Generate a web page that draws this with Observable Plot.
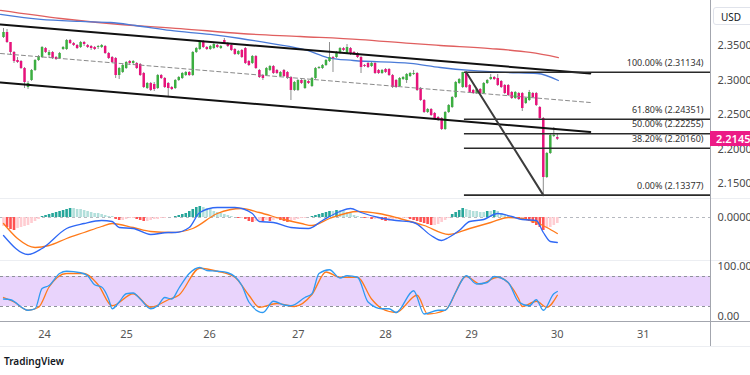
<!DOCTYPE html>
<html><head><meta charset="utf-8">
<script src="https://cdn.jsdelivr.net/npm/d3@7"></script>
<script src="https://cdn.jsdelivr.net/npm/@observablehq/plot@0.6"></script>
<style>
body{margin:0;background:#fff;}
#wrap{position:relative;width:750px;height:375px;overflow:hidden;background:#fff;font-family:'Noto Sans','DejaVu Sans',sans-serif;}
.pane{position:absolute;left:0;}
.line{position:absolute;}
</style></head><body><div id="wrap"></div>
<script>
// ---- hourly candles (USD) ----
const open = [2.3615,2.3688,2.3543,2.3399,2.3283,2.3269,2.3167,2.2893,2.2994,2.3139,
2.3283,2.3326,2.3456,2.3355,2.3399,2.3326,2.3312,2.3442,2.3442,2.3572,
2.3529,2.3500,2.3471,2.3543,2.3500,2.3485,2.3471,2.3471,2.3471,2.3485,
2.3384,2.3326,2.3312,2.3066,2.3110,2.3167,2.3269,2.3240,2.3240,2.3225,
2.3095,2.2878,2.2951,2.2936,2.2878,2.3066,2.3023,2.2951,2.2893,2.2878,
2.2994,2.3023,2.3066,2.3110,2.3066,2.3399,2.3442,2.3558,2.3471,2.3442,
2.3456,2.3500,2.3456,2.3572,2.3529,2.3500,2.3442,2.3370,2.3428,2.3456,
2.3269,2.3240,2.3341,2.3139,2.3066,2.3066,2.3139,2.3196,2.3139,2.3052,
2.3139,2.3110,2.3037,2.2850,2.2850,2.2994,
2.2878,2.2980,2.2907,2.3023,2.3167,
2.3167,2.3211,2.3269,2.3326,2.3326,2.3384,2.3456,2.3384,
2.3456,2.3399,2.3384,2.3326,2.3211,2.3240,2.3196,2.3240,2.3139,2.3095,
2.3153,2.3153,2.3066,2.2994,2.2907,2.3008,2.2994,2.3052,2.3081,2.3095,2.2878,2.2705,
2.2532,2.2575,2.2517,2.2459,2.2445,2.2286,2.2532,
2.2604,2.2748,2.2951,2.2893,2.3110,2.2922,2.2850,
2.2806,2.2864,2.2806,
2.2951,2.3008,2.3037,2.3023,2.2980,2.2922,
2.2922,2.2821,2.2734,
2.2806,2.2806,2.2662,2.2705,2.2806,2.2806,2.2604,2.2445,2.1592,2.1939,2.2185,2.2170];
const high = [2.3745,2.3731,2.3543,2.3413,2.3326,2.3283,2.3182,2.2980,2.3153,2.3297,
2.3355,2.3485,2.3471,2.3428,2.3413,2.3341,2.3399,2.3485,2.3586,2.3586,
2.3543,2.3514,2.3558,2.3558,2.3514,2.3500,2.3485,2.3500,2.3514,2.3500,
2.3399,2.3341,2.3326,2.3182,2.3225,2.3269,2.3283,2.3283,2.3254,2.3240,
2.3110,2.2965,2.2965,2.2965,2.3081,2.3081,2.3037,2.2965,2.2907,2.3008,
2.3052,2.3110,2.3124,2.3124,2.3413,2.3471,2.3572,2.3572,2.3485,2.3500,
2.3529,2.3514,2.3500,2.3601,2.3543,2.3514,2.3456,2.3428,2.3442,2.3471,
2.3283,2.3355,2.3355,2.3153,2.3081,2.3182,2.3211,2.3211,2.3153,2.3124,
2.3153,2.3124,2.3052,2.2980,2.3008,2.3008,
2.3008,2.2994,2.3037,2.3182,2.3196,
2.3225,2.3297,2.3543,2.3341,2.3413,2.3471,2.3471,2.3514,
2.3471,2.3413,2.3399,2.3341,2.3225,2.3254,2.3254,2.3254,2.3153,2.3153,
2.3167,2.3167,2.3081,2.3008,2.3037,2.3052,2.3095,2.3110,2.3139,2.3110,2.2893,2.2719,
2.2589,2.2589,2.2532,2.2474,2.2459,2.2546,2.2647,
2.2763,2.2980,2.3023,2.3113,2.3113,2.2936,2.2864,
2.2878,2.2878,2.2965,
2.3008,2.3081,2.3052,2.3081,2.2994,2.2936,
2.2936,2.2835,2.2835,
2.2821,2.2821,2.2748,2.2850,2.2821,2.2821,2.2618,2.2459,2.1954,2.2214,2.2315,2.2214];
const low = [2.3601,2.3529,2.3355,2.3240,2.3240,2.3153,2.2878,2.2864,2.2980,2.3124,
2.3269,2.3312,2.3384,2.3312,2.3297,2.3283,2.3297,2.3428,2.3428,2.3514,
2.3485,2.3442,2.3456,2.3485,2.3456,2.3428,2.3428,2.3442,2.3456,2.3370,
2.3297,2.3240,2.3023,2.3008,2.3095,2.3153,2.3211,2.3225,2.3153,2.3052,
2.2878,2.2864,2.2835,2.2835,2.2864,2.3008,2.2878,2.2748,2.2850,2.2864,
2.2980,2.3008,2.3052,2.3052,2.3052,2.3384,2.3428,2.3456,2.3428,2.3428,
2.3442,2.3456,2.3442,2.3514,2.3471,2.3413,2.3355,2.3355,2.3312,2.3225,
2.3196,2.3225,2.3153,2.3023,2.2994,2.3052,2.3124,2.3081,2.3081,2.3037,
2.3037,2.3008,2.2705,2.2835,2.2835,2.2936,
2.2864,2.2936,2.2893,2.3008,2.3153,
2.3153,2.3196,2.3254,2.3110,2.3312,2.3370,2.3413,2.3370,
2.3355,2.3355,2.3312,2.3095,2.3182,2.3167,2.3182,2.3081,2.3081,2.3081,
2.3095,2.3052,2.2878,2.2878,2.2893,2.2994,2.2951,2.3037,2.3066,2.2835,2.2691,2.2517,
2.2517,2.2474,2.2430,2.2402,2.2272,2.2272,2.2517,
2.2589,2.2734,2.2936,2.2878,2.2878,2.2806,2.2792,
2.2792,2.2792,2.2792,
2.2936,2.2994,2.2994,2.2907,2.2878,2.2792,
2.2763,2.2719,2.2719,
2.2705,2.2546,2.2647,2.2691,2.2734,2.2618,2.2430,2.13377,2.1578,2.1925,2.2170,2.2127];
const close = [2.3688,2.3543,2.3399,2.3269,2.3254,2.3167,2.2965,2.2951,2.3139,2.3283,
2.3341,2.3471,2.3399,2.3399,2.3312,2.3297,2.3384,2.3471,2.3572,2.3529,
2.3500,2.3456,2.3543,2.3514,2.3471,2.3456,2.3442,2.3485,2.3500,2.3384,
2.3312,2.3254,2.3066,2.3167,2.3211,2.3254,2.3240,2.3269,2.3167,2.3066,
2.2893,2.2951,2.2850,2.2864,2.3066,2.3023,2.2893,2.2878,2.2864,2.2994,
2.3037,2.3095,2.3110,2.3066,2.3399,2.3456,2.3558,2.3471,2.3442,2.3485,
2.3514,2.3471,2.3485,2.3529,2.3485,2.3428,2.3370,2.3413,2.3326,2.3240,
2.3211,2.3341,2.3167,2.3037,2.3023,2.3167,2.3196,2.3095,2.3095,2.3110,
2.3052,2.3023,2.2850,2.2965,2.2994,2.2951,
2.2994,2.2951,2.3023,2.3167,2.3182,
2.3211,2.3283,2.3326,2.3312,2.3399,2.3456,2.3428,2.3471,
2.3370,2.3370,2.3326,2.3182,2.3196,2.3182,2.3240,2.3095,2.3095,2.3139,
2.3110,2.3066,2.2893,2.2893,2.3023,2.3037,2.3081,2.3095,2.3095,2.2850,2.2705,2.2532,
2.2575,2.2488,2.2445,2.2416,2.2286,2.2532,2.2633,
2.2748,2.2965,2.3008,2.3110,2.2893,2.2821,2.2806,
2.2864,2.2806,2.2951,
2.2994,2.3037,2.3008,2.2922,2.2893,2.2806,
2.2777,2.2734,2.2821,
2.2719,2.2589,2.2734,2.2821,2.2748,2.2633,2.2445,2.1592,2.1939,2.2199,2.2199,2.2145];

// ---- time axis (bar index of each day label) ----
const dayLabels = ["24","25","26","27","28","29","30","31"];
const dayIdx = [11.7, 35.1, 58.8, 84.1, 109.0, 133.5, 158.0, 182.5];
const xDomain = [-0.856, 201.7];

// ---- price axis ----
const priceTicks = [2.15, 2.20, 2.25, 2.30, 2.35];
const priceDomain = [2.12889, 2.415];

// ---- moving averages ----
const maRedIdx = [-0.856,16.3,33.4,50.5,67.6,84.7,101.8,116.1,124.6,138.9,150.3,158.3];
const maRed = [2.4006,2.3890,2.3803,2.3745,2.3673,2.3630,2.3586,2.3529,2.3500,2.3456,2.3399,2.3326];
const maBlueIdx = [-0.856,10.6,22.0,30.5,37.6,47.6,59.0,67.6,76.2,86.7,92.4,99.8,116.1,124.6,133.2,143.2,152.3,158.3];
const maBlue = [2.3948,2.3876,2.3847,2.3832,2.3789,2.3717,2.3659,2.3601,2.3529,2.3428,2.3326,2.3283,2.3240,2.3182,2.3139,2.3110,2.3095,2.2994];

// ---- channel drawing ----
const channelIdx = [-0.856, 167.4];
const channelUpper = [2.3803, 2.3095];
const channelMid = [2.3384, 2.2676];
const channelLower = [2.2965, 2.2250];

// ---- fibonacci retracement ----
const fibPct = [100, 61.8, 50, 38.2, 0];
const fibPrice = [2.31134, 2.24351, 2.22255, 2.20160, 2.13377];
const fibStartIdx = 131.5;
const fibSwingIdx = [132, 154];

// ---- MACD ----
const macdHist = [-0.009,-0.010,-0.012,-0.013,-0.011,-0.010,-0.009,-0.008,-0.006,-0.004,-0.002,
0.001,0.002,0.003,0.004,0.005,0.006,0.007,0.008,0.009,
0.009,0.008,0.008,0.007,0.006,0.005,0.004,0.004,0.003,0.002,
0.001,0.001,-0.002,-0.003,-0.003,-0.002,-0.001,-0.001,-0.002,-0.003,
-0.004,-0.004,-0.003,-0.002,-0.002,-0.001,-0.001,0,0,0.001,
0.002,0.003,0.004,0.006,0.008,0.010,0.011,0.010,0.009,0.008,
0.006,0.005,0.004,0.003,0.002,0.001,0,-0.001,-0.001,-0.002,
-0.004,-0.005,-0.004,-0.003,-0.004,-0.003,-0.004,-0.003,-0.002,-0.003,
-0.004,-0.005,-0.004,-0.003,-0.002,-0.001,-0.001,0,0.001,0.002,
0.003,0.004,0.005,0.006,0.006,0.007,0.007,0.006,0.005,0.004,
0.002,0.001,0,-0.001,-0.001,-0.002,-0.002,-0.002,-0.003,-0.004,
-0.004,-0.003,-0.002,-0.002,-0.001,-0.001,-0.002,-0.003,-0.004,-0.005,
-0.006,-0.007,-0.008,-0.008,-0.007,-0.005,-0.003,-0.001,0.003,0.005,
0.007,0.009,0.008,0.007,0.006,0.006,0.005,0.005,0.006,0.006,
0.007,0.006,0.004,0.003,0.001,0,-0.001,-0.002,-0.002,-0.003,
-0.004,-0.006,-0.008,-0.010,-0.013,-0.011,-0.010,-0.008,-0.006];
const macdIdx = [0,7,11,18,23,28,31,33,37,42,47,49,53,56,61,66,71,73,77,82,87,91,96,99,102,107,112,117,122,125,127,130,133,137,141,145,148,152,154,156,158];
const macdLine = [-0.018,-0.037,-0.031,-0.011,-0.006,-0.003,-0.004,-0.010,-0.011,-0.017,-0.015,-0.015,-0.010,0.005,0.010,0.010,0.004,-0.004,-0.005,-0.010,-0.011,-0.003,0.006,0.009,0.005,0.000,-0.003,-0.005,-0.018,-0.023,-0.020,-0.013,-0.004,-0.002,0.004,0.001,-0.002,-0.003,-0.015,-0.024,-0.025];
const signalIdx = [0,4,9,13,18,23,28,31,37,42,48,54,61,68,73,80,85,88,93,101,107,113,120,127,133,139,144,148,152,155,158];
const signalLine = [-0.006,-0.021,-0.030,-0.028,-0.021,-0.015,-0.009,-0.006,-0.010,-0.014,-0.015,-0.011,0.004,0.009,0.005,-0.002,-0.006,-0.008,-0.001,0.006,0.004,-0.001,-0.008,-0.017,-0.011,-0.005,0.000,-0.001,-0.005,-0.010,-0.016];

// ---- Stochastic RSI ----
const kIdx = [0,2,7,9,11,13,16,18,22,24,26,28,30,31,33,35,37,39,42,44,46,48,50,53,56,58,61,64,68,70,74,77,80,82,86,88,90,93,96,98,101,104,108,110,112,117,120,124,126,129,132,135,138,140,144,147,150,152,154,157,158];
const kVal = [40,39,25,27,54,58,74,77,75,71,59,56,40,27,36,47,48,40,27,31,42,40,54,74,82,78,77,75,58,36,22,37,32,31,42,47,74,79,68,71,69,36,27,27,22,51,20,25,25,49,71,60,62,70,62,36,31,39,25,47,50];
const dIdx = [0,3,7,10,13,18,23,27,31,37,42,47,50,56,61,66,70,73,78,83,88,92,96,101,105,108,112,118,121,126,132,136,141,147,148,152,155,158];
const dVal = [42,36,25,29,56,74,74,59,31,47,29,39,45,81,77,69,45,29,34,30,46,76,69,69,40,27,22,45,20,25,70,60,69,40,30,37,29,45];
const bandLevels = [30, 70];
const rsiLabels = [100, 0];

// ---- styling ----
const FONT = "'Noto Sans','DejaVu Sans',sans-serif";
const GREEN = "#3cae41", PINK = "#e6137b";
const wrap = document.getElementById("wrap");
const common = {
  width: 750, marginLeft: 0, marginRight: 40, marginTop: 0, marginBottom: 0,
  x: {domain: xDomain, axis: null},
  color: {type: "identity"},
  style: {fontFamily: FONT, fontSize: "11px", background: "transparent", color: "#4a4a4a", overflow: "visible"}
};
function place(el, top) {
  const d = document.createElement("div");
  d.className = "pane"; d.style.top = top + "px";
  d.appendChild(el); wrap.appendChild(d);
}
const pts = (xs, ys) => xs.map((x, i) => ({x, y: ys[i]}));

const bars = close.map((c, i) => ({i, o: open[i], h: high[i], l: low[i], c}));
const fibs = fibPrice.map((p, i) => ({p, pct: fibPct[i]}));

const main = Plot.plot({
  ...common, height: 198,
  y: {domain: priceDomain, axis: null},
  marks: [
    Plot.line(pts(maRedIdx, maRed), {x: "x", y: "y", stroke: "#e05f5f", strokeWidth: 1.3, curve: "monotone-x"}),
    Plot.line(pts(maBlueIdx, maBlue), {x: "x", y: "y", stroke: "#4a7bd8", strokeWidth: 1.3, curve: "monotone-x"}),
    Plot.ruleX(bars, {x: "i", y1: "l", y2: "h", stroke: "#8e8e8e", strokeWidth: 1}),
    Plot.ruleX(bars, {x: "i", y1: "o", y2: "c", stroke: d => d.c >= d.o ? GREEN : PINK, strokeWidth: 2.5}),
    Plot.line(pts(channelIdx, channelMid), {x: "x", y: "y", stroke: "#8a8a8a", strokeWidth: 1, strokeDasharray: "4,3"}),
    Plot.line(pts(channelIdx, channelUpper), {x: "x", y: "y", stroke: "#111", strokeWidth: 2}),
    Plot.line(pts(channelIdx, channelLower), {x: "x", y: "y", stroke: "#111", strokeWidth: 2}),
    Plot.ruleY(fibs, {y: "p", x1: () => fibStartIdx, x2: () => xDomain[1], stroke: "#2a2a2a", strokeWidth: 1.6}),
    Plot.line(pts(fibSwingIdx, [fibPrice[0], fibPrice[fibPrice.length - 1]]), {x: "x", y: "y", stroke: "#3c3c3c", strokeWidth: 2}),
    Plot.text(fibs, {x: () => xDomain[1], y: "p", text: d => `${d.pct.toFixed(2)}% (${d.p.toFixed(5)})`,
      textAnchor: "end", dx: -7, dy: -9.5, fontSize: 9, fill: "#333"}),
    Plot.text(priceTicks, {x: () => xDomain[1], y: d => d, text: d => d3.format(".4f")(d),
      textAnchor: "start", dx: 7, fill: "#4a4a4a"})
  ]
});
place(main, 0);

const histData = macdHist.map((v, i) => {
  const p = i ? macdHist[i - 1] : v;
  const col = v >= 0 ? (v > p ? "#26a69a" : "#b2dfdb") : (v < p ? "#ff5252" : "#ffcdd2");
  return {i, v, col};
});
const macdPlot = Plot.plot({
  ...common, height: 61,
  y: {domain: [-0.043, 0.018], axis: null},
  marks: [
    Plot.ruleY([0], {stroke: "#b6b9c0", strokeDasharray: "3,3"}),
    Plot.ruleX(histData, {x: "i", y1: () => 0, y2: "v", stroke: "col", strokeWidth: 2.6}),
    Plot.line(pts(signalIdx, signalLine), {x: "x", y: "y", stroke: "#ff7a1a", strokeWidth: 1.3, curve: "monotone-x"}),
    Plot.line(pts(macdIdx, macdLine), {x: "x", y: "y", stroke: "#2f68f5", strokeWidth: 1.3, curve: "monotone-x"}),
    Plot.text([0], {x: () => xDomain[1], y: d => d, text: d => d3.format(".4f")(d), textAnchor: "start", dx: 7, fill: "#4a4a4a"})
  ]
});
place(macdPlot, 199);

const rsiDomain = [10, 90];
const rsiPlot = Plot.plot({
  ...common, height: 60,
  y: {domain: rsiDomain, axis: null},
  marks: [
    Plot.rect([bandLevels], {x1: () => xDomain[0], x2: () => xDomain[1], y1: d => d[0], y2: d => d[1], fill: "#e9d4fc"}),
    Plot.ruleY(bandLevels, {x1: () => xDomain[0], x2: () => xDomain[1], stroke: "#8f929b", strokeDasharray: "3,3"}),
    Plot.line(pts(dIdx, dVal), {x: "x", y: "y", stroke: "#ff7a1a", strokeWidth: 1.3, curve: "monotone-x"}),
    Plot.line(pts(kIdx, kVal), {x: "x", y: "y", stroke: "#2f9af2", strokeWidth: 1.3, curve: "monotone-x"}),
    Plot.text([rsiLabels[0]], {x: () => xDomain[1], y: d => Math.min(rsiDomain[1], d), text: d => d.toFixed(2), textAnchor: "start", dx: 7, dy: 5, fill: "#4a4a4a"}),
    Plot.text([rsiLabels[1]], {x: () => xDomain[1], y: d => Math.max(rsiDomain[0], d), text: d => d.toFixed(2), textAnchor: "start", dx: 7, dy: -5, fill: "#4a4a4a"})
  ]
});
place(rsiPlot, 261);

const timePlot = Plot.plot({
  ...common, height: 25,
  marks: [
    Plot.text(dayLabels, {x: (d, i) => dayIdx[i], text: d => d, fill: "#555"})
  ]
});
place(timePlot, 321);

// ---- chrome: separators, price scale border ----
function box(css) {
  const d = document.createElement("div");
  d.className = "line";
  Object.assign(d.style, css);
  wrap.appendChild(d);
  return d;
}
box({left: "0px", top: "198px", width: "750px", height: "1px", background: "#eceef2"});
box({left: "0px", top: "260px", width: "750px", height: "1px", background: "#eceef2"});
box({left: "0px", top: "321px", width: "750px", height: "1px", background: "#a3a6ae"});
box({left: "0px", top: "346px", width: "750px", height: "1px", background: "#eceef2"});
box({left: "710px", top: "0px", width: "1px", height: "346px", background: "#a3a6ae"});

const usd = box({left: "713px", top: "7px", width: "40px", height: "18px", border: "1px solid #e0e3eb",
  borderRadius: "3px", background: "#fff", fontSize: "10px", lineHeight: "18px", color: "#131722",
  paddingLeft: "7px", boxSizing: "border-box"});
usd.textContent = "USD";

const lastClose = close[close.length - 1];
const yLast = main.scale("y").apply(lastClose);
const tag = box({left: "710px", top: (yLast - 7.5) + "px", width: "42px", height: "15px", background: "#ec1a86",
  color: "#fff", fontSize: "11px", fontWeight: "600", lineHeight: "15px", paddingLeft: "6px", boxSizing: "border-box"});
tag.textContent = d3.format(".4f")(lastClose);

const brand = box({left: "4px", top: "355px", fontSize: "10px", fontWeight: "600", lineHeight: "12px", color: "#131722"});
brand.textContent = "TradingView";
</script>
</body></html>
